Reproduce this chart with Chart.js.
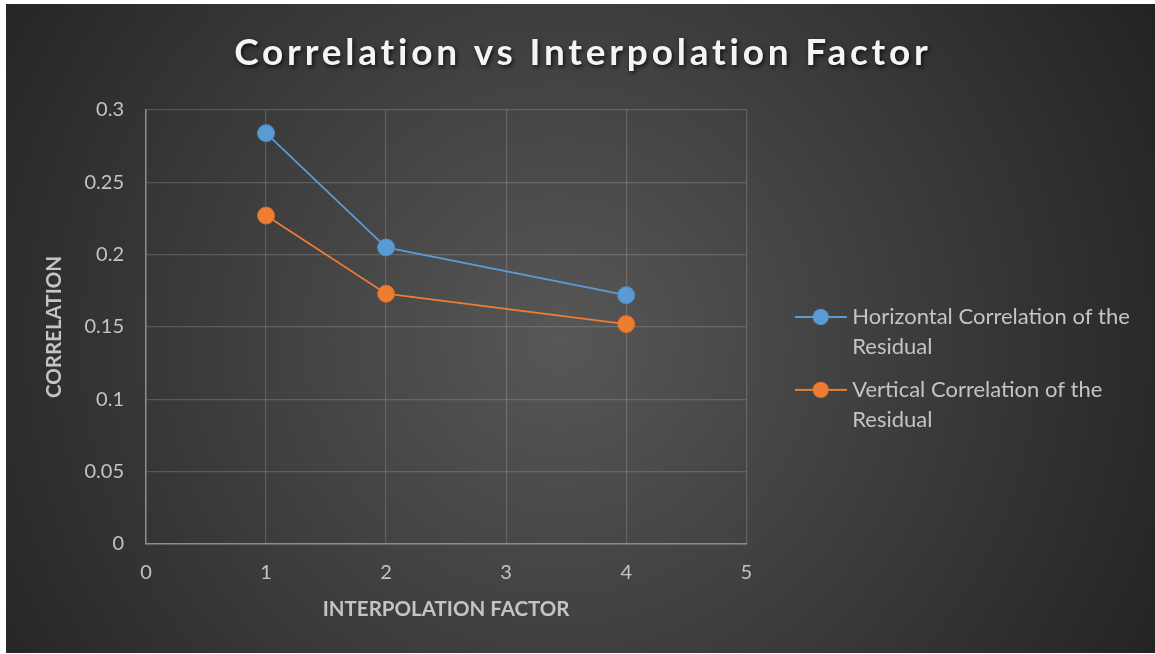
<!DOCTYPE html>
<html>
<head>
<meta charset="utf-8">
<title>Correlation vs Interpolation Factor</title>
<script src="https://cdn.jsdelivr.net/npm/chart.js@4.4.1/dist/chart.umd.min.js"></script>
<style>
    html, body { margin: 0; padding: 0; background: #fff; }
    #myChart { display: block; }
</style>
</head>
<body>
<canvas id="myChart" width="1155" height="654"></canvas>
<script>
"use strict";

// chart data
const chartTitle = 'Correlation vs Interpolation Factor';
const xAxisTitle = 'INTERPOLATION FACTOR';
const yAxisTitle = 'CORRELATION';
const interpolationFactors = [1, 2, 4];
const horizontalCorrelation = [0.284, 0.205, 0.172];
const verticalCorrelation = [0.227, 0.173, 0.152];
const horizontalName = ['Horizontal Correlation of the', 'Residual'];
const verticalName = ['Vertical Correlation of the', 'Residual'];
const xTicks = [0, 1, 2, 3, 4, 5];
const yTicks = [0, 0.05, 0.1, 0.15, 0.2, 0.25, 0.3];

const blue = '#5b9bd5';
const orange = '#ed7d31';
const labelColor = '#c4c4c4';
const fontFamily = 'Lato, "Open Sans", sans-serif';

// build {x, y} points from the arrays
function toPoints(xs, ys) {
    return xs.map(function (x, i) { return { x: x, y: ys[i] }; });
}

// small canvas used as legend symbol: line with a dot in the middle
function legendMarker(color) {
    const c = document.createElement('canvas');
    c.width = 52;
    c.height = 20;
    const g = c.getContext('2d');
    g.strokeStyle = color;
    g.lineWidth = 2;
    g.beginPath();
    g.moveTo(0, 10);
    g.lineTo(52, 10);
    g.stroke();
    g.fillStyle = color;
    g.beginPath();
    g.arc(26, 10, 8, 0, Math.PI * 2);
    g.fill();
    return c;
}

// dark radial background + white frame like the exported picture
const backgroundPlugin = {
    id: 'background',
    beforeDraw: function (chart) {
        const ctx = chart.ctx;
        ctx.save();
        ctx.fillStyle = '#ffffff';
        ctx.fillRect(0, 0, chart.width, chart.height);
        const grad = ctx.createRadialGradient(560, 340, 0, 560, 340, 720);
        grad.addColorStop(0, '#575757');
        grad.addColorStop(1, '#202020');
        ctx.fillStyle = grad;
        ctx.fillRect(6, 4, chart.width - 6, chart.height - 5);
        ctx.restore();
    }
};

// title with letter spacing and a soft shadow
const titlePlugin = {
    id: 'spacedTitle',
    afterDraw: function (chart) {
        const ctx = chart.ctx;
        ctx.save();
        ctx.font = 'bold 37px ' + fontFamily;
        ctx.letterSpacing = '0px';
        const w0 = ctx.measureText(chartTitle).width;
        const spacing = (695 - w0) / (chartTitle.length - 1);
        ctx.letterSpacing = spacing + 'px';
        ctx.textAlign = 'center';
        ctx.textBaseline = 'alphabetic';
        ctx.shadowColor = 'rgba(0, 0, 0, 0.75)';
        ctx.shadowBlur = 4;
        ctx.shadowOffsetX = 1.5;
        ctx.shadowOffsetY = 2;
        ctx.fillStyle = '#f4f4f4';
        ctx.fillText(chartTitle, 581 + spacing / 2, 65);
        ctx.restore();
    }
};

// move the legend next to the plot where it sits in the original,
// and give it the full room up to the right edge so text is not clipped
const legendNudgePlugin = {
    id: 'legendNudge',
    afterLayout: function (chart) {
        const legend = chart.legend;
        legend.left = chart.chartArea.right + 41;
        legend.right = chart.width;
        legend.width = legend.right - legend.left;
        legend.top = 293;
        legend.bottom = chart.height;
        legend.height = legend.bottom - legend.top;
    }
};

const ctx = document.getElementById('myChart');
const myChart = new Chart(ctx, {
    type: 'line',
    data: {
        datasets: [
            {
                label: horizontalName,
                data: toPoints(interpolationFactors, horizontalCorrelation),
                borderColor: blue,
                backgroundColor: blue,
                borderWidth: 1.75,
                pointRadius: 8.5,
                pointHoverRadius: 8.5,
                pointBackgroundColor: blue,
                pointBorderColor: '#4f8cc4',
                pointBorderWidth: 1
            },
            {
                label: verticalName,
                data: toPoints(interpolationFactors, verticalCorrelation),
                borderColor: orange,
                backgroundColor: orange,
                borderWidth: 1.75,
                pointRadius: 8.5,
                pointHoverRadius: 8.5,
                pointBackgroundColor: orange,
                pointBorderColor: '#d86f28',
                pointBorderWidth: 1
            }
        ]
    },
    options: {
        responsive: false,
        animation: false,
        devicePixelRatio: 1,
        layout: {
            // right padding: legend box takes (available width / 4), plot must end at x=746
            padding: { left: 6, top: 110, right: 162, bottom: 1 }
        },
        plugins: {
            title: { display: false },
            tooltip: { enabled: false },
            legend: {
                display: true,
                position: 'right',
                align: 'start',
                labels: {
                    color: labelColor,
                    font: { family: fontFamily, size: 22, lineHeight: 1.36 },
                    usePointStyle: true,
                    pointStyleWidth: 41,
                    padding: 13,
                    generateLabels: function (chart) {
                        return chart.data.datasets.map(function (ds, i) {
                            return {
                                text: ds.label,
                                fontColor: labelColor,
                                pointStyle: legendMarker(ds.borderColor),
                                lineWidth: 0,
                                datasetIndex: i
                            };
                        });
                    }
                }
            }
        },
        scales: {
            x: {
                type: 'linear',
                min: xTicks[0],
                max: xTicks[xTicks.length - 1],
                afterFit: function (scale) { scale.height = 109; },
                afterBuildTicks: function (scale) {
                    scale.ticks = xTicks.map(function (v) { return { value: v }; });
                },
                ticks: {
                    color: labelColor,
                    font: { family: fontFamily, size: 20 },
                    padding: 17,
                    callback: function (v) { return String(v); }
                },
                grid: {
                    color: 'rgba(255, 255, 255, 0.16)',
                    lineWidth: 1.25,
                    drawTicks: false
                },
                border: { color: '#8c8c8c', width: 1.5 },
                title: {
                    display: true,
                    text: xAxisTitle,
                    color: labelColor,
                    font: { family: fontFamily, size: 20.5, weight: 'bold' },
                    padding: { top: 0, bottom: 31 }
                }
            },
            y: {
                type: 'linear',
                min: yTicks[0],
                max: yTicks[yTicks.length - 1],
                afterFit: function (scale) { scale.width = 140; },
                afterBuildTicks: function (scale) {
                    scale.ticks = yTicks.map(function (v) { return { value: v }; });
                },
                ticks: {
                    color: labelColor,
                    font: { family: fontFamily, size: 20 },
                    padding: 22,
                    callback: function (v) { return String(+v.toFixed(2)); }
                },
                grid: {
                    color: 'rgba(255, 255, 255, 0.16)',
                    lineWidth: 1.25,
                    drawTicks: false
                },
                border: { color: '#8c8c8c', width: 1.5 },
                title: {
                    display: true,
                    text: yAxisTitle,
                    color: labelColor,
                    font: { family: fontFamily, size: 20.5, weight: 'bold' },
                    padding: { top: 36, bottom: 0 }
                }
            }
        }
    },
    plugins: [backgroundPlugin, titlePlugin, legendNudgePlugin]
});
</script>
</body>
</html>
